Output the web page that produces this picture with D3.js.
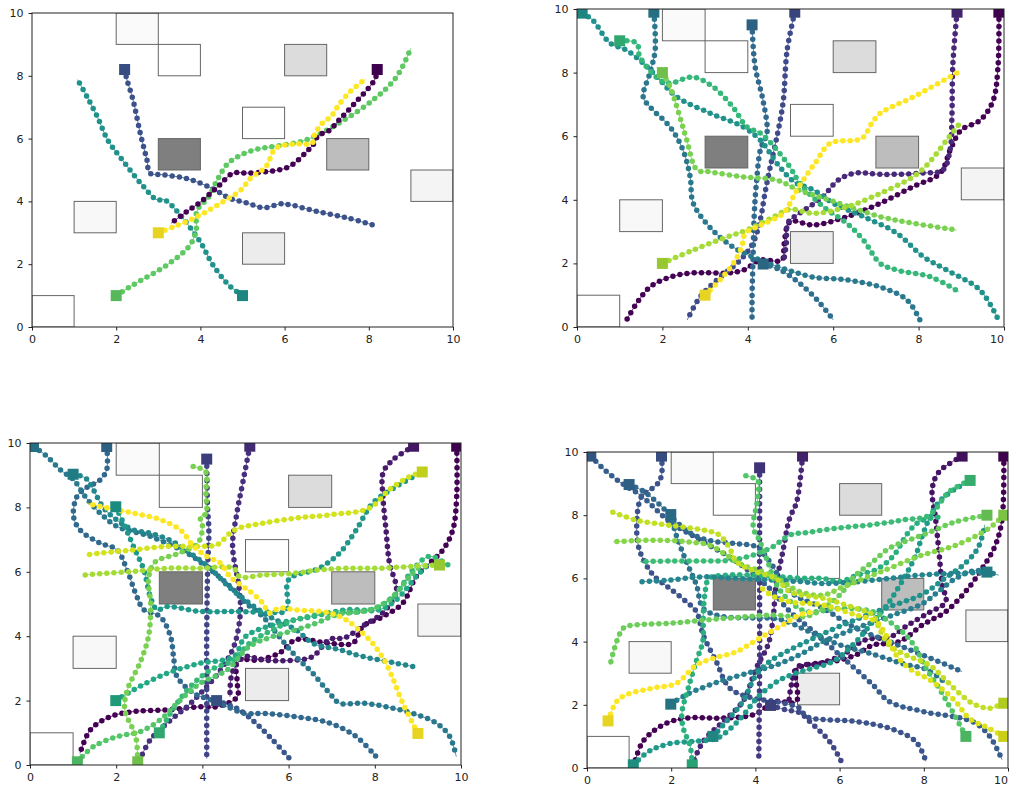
<!DOCTYPE html>
<html>
<head>
<meta charset="utf-8">
<script src="https://cdn.jsdelivr.net/npm/d3@7"></script>
<style>
body { margin: 0; background: #fff; }
.tick text { font-family: "DejaVu Sans", sans-serif; font-size: 11px; fill: #222; }
.tick line { stroke: #222; }
</style>
</head>
<body>
<div id="chart"></div>
<script>
/* globals d3 */

// Axis ticks, shared by all four panels
var ticks = [0, 2, 4, 6, 8, 10];

// Obstacles: [x0, y0, x1, y1] and their grey shade
var obstacles = [[2, 9, 3, 10], [3, 8, 4, 9], [6, 8, 7, 9], [5, 6, 6, 7], [3, 5, 4, 6],
    [7, 5, 8, 6], [9, 4, 10, 5], [1, 3, 2, 4], [5, 2, 6, 3], [0, 0, 1, 1]];
var obstacleShades = ['#fafafa', '#ffffff', '#dcdcdc', '#ffffff', '#7f7f7f',
    '#bdbdbd', '#f4f4f4', '#f8f8f8', '#ececec', '#ffffff'];

// Panel 1 (top left): 5 agents, first point = start square
var p1Colors = ['#3b528b', '#21918c', '#5ec962', '#440154', '#fde725'];
var p1Paths = [
    [[2.2, 8.2], [2.25, 7.9], [2.4, 7.23], [2.57, 6.18], [2.73, 5.32], [2.8, 4.9], [3.1, 4.85], [3.7, 4.72], [4.3, 4.4], [4.7, 4.1], [5.1, 3.95], [5.5, 3.8], [5.9, 3.92], [6.1, 3.9], [6.8, 3.67], [7.5, 3.47], [8.1, 3.25]],
    [[5, 1], [4.7, 1.3], [4.3, 1.97], [4.0, 2.7], [3.5, 3.6], [3.15, 4.05], [2.97, 4.05], [2.6, 4.55], [2.1, 5.4], [1.8, 5.95], [1.55, 6.7], [1.3, 7.35], [1.08, 7.88]],
    [[2, 1], [2.4, 1.34], [3.2, 1.97], [3.75, 2.6], [3.9, 3.1], [3.9, 3.6], [4.0, 3.88], [4.15, 4.05], [4.4, 4.68], [4.65, 5.2], [5.0, 5.5], [5.4, 5.68], [5.75, 5.75], [6.5, 5.95], [7.3, 6.5], [8.1, 7.23], [8.65, 7.95], [9.0, 8.88]],
    [[8.2, 8.2], [8.15, 7.9], [7.65, 7.1], [7.3, 6.6], [7.05, 6.25], [6.8, 6.1], [6.7, 5.85], [6.5, 5.55], [6.1, 5.1], [5.6, 4.95], [5.1, 4.9], [4.78, 4.9], [4.4, 4.45], [4.0, 3.98], [3.65, 3.65], [3.3, 3.3]],
    [[3, 3], [3.35, 3.18], [3.9, 3.5], [4.4, 3.88], [4.95, 4.35], [5.2, 4.75], [5.55, 5.1], [5.8, 5.7], [6.3, 5.83], [6.65, 5.85], [6.72, 6.15], [6.9, 6.5], [7.1, 6.7], [7.3, 7.1], [7.6, 7.55], [7.93, 7.9]]
];

// Panel 2 (top right): 11 agents
var p2Colors = ['#440154', '#482878', '#3e4a89', '#31688e', '#2e6e8e', '#2a788e',
    '#21918c', '#35b779', '#7ad151', '#a5db36', '#fde725'];
var p2Paths = [
    [[9.88, 9.9], [9.86, 8.2], [9.74, 7.1], [9.44, 6.5], [9.0, 6.2], [8.75, 5.6], [8.5, 4.83], [7.88, 4.42], [7.1, 3.89], [6.32, 3.47], [5.54, 3.21], [4.99, 3.31], [4.85, 2.6], [4.8, 2.1], [4.29, 2.1], [3.9, 1.79], [3.51, 1.7], [2.72, 1.7], [2.18, 1.57], [1.71, 1.26], [1.4, 0.75], [1.16, 0.22]],
    [[8.9, 9.9], [8.8, 8.2], [8.78, 6.6], [8.74, 5.6], [8.57, 4.94], [8.1, 4.84], [7.1, 4.8], [6.5, 4.84], [6.1, 4.6], [5.76, 4.1], [5.22, 3.58], [4.95, 3.3], [4.9, 2.6], [4.85, 2.15]],
    [[5.1, 9.9], [4.92, 8.7], [4.83, 7.1], [4.7, 6.1], [4.52, 5.0], [4.4, 4.2], [4.29, 3.36], [4.12, 2.64], [3.82, 2.1], [3.28, 1.48], [2.88, 0.94], [2.58, 0.22]],
    [[4.1, 9.5], [4.17, 8.2], [4.36, 7.1], [4.45, 6.1], [4.3, 5.6], [4.2, 4.5], [4.15, 3.5], [4.12, 2.0], [4.1, 1.0], [4.1, 0.22]],
    [[4.36, 1.98], [4.75, 1.8], [5.22, 1.37], [5.69, 0.75], [6.0, 0.22]],
    [[1.8, 9.9], [1.83, 8.7], [1.71, 8.0], [1.55, 7.23], [1.71, 6.92], [2.18, 6.29], [2.48, 5.57], [2.65, 4.72], [2.72, 3.9], [3.11, 3.14], [3.65, 2.52], [4.29, 2.1], [4.92, 1.8], [5.53, 1.57], [6.32, 1.48], [7.1, 1.26], [7.73, 0.85], [8.03, 0.22]],
    [[0.12, 9.87], [0.37, 9.65], [0.77, 8.93], [1.17, 8.7], [1.64, 8.18], [1.94, 7.77], [2.34, 7.23], [3.11, 6.73], [3.89, 6.29], [4.29, 5.88], [4.75, 5.03], [5.1, 4.55], [5.54, 4.31], [6.0, 3.89], [6.71, 3.47], [7.49, 2.95], [8.11, 2.21], [8.66, 1.79], [9.44, 1.16], [9.87, 0.22]],
    [[1.0, 9.0], [1.4, 8.93], [1.47, 8.5], [1.94, 7.77], [2.18, 7.67], [2.72, 7.86], [3.19, 7.55], [3.65, 6.92], [3.98, 6.29], [4.29, 6.1], [4.68, 5.57], [5.0, 5.0], [5.22, 4.52], [5.77, 3.78], [6.32, 3.26], [6.71, 2.73], [7.1, 2.0], [7.49, 1.79], [8.27, 1.58], [8.94, 1.11]],
    [[2.0, 8.0], [2.18, 7.55], [2.41, 6.6], [2.57, 5.88], [2.81, 4.94], [3.11, 4.88], [3.89, 4.72], [4.68, 4.62], [5.2, 4.3], [6.0, 3.95], [7.1, 3.47], [7.88, 3.26], [8.89, 3.05]],
    [[2.0, 2.0], [2.72, 2.42], [3.51, 2.83], [3.98, 3.05], [4.6, 3.46], [4.99, 3.7], [5.54, 3.57], [6.32, 3.78], [7.1, 4.2], [7.88, 4.73], [8.2, 5.1], [8.66, 5.88], [8.97, 6.41]],
    [[3.0, 1.0], [3.35, 1.48], [3.66, 2.0], [3.86, 2.52], [3.94, 2.94], [4.3, 3.2], [4.83, 3.58], [5.15, 4.31], [5.46, 4.94], [5.6, 5.2], [5.93, 5.78], [6.67, 5.93], [6.9, 6.4], [7.1, 6.72], [7.87, 7.23], [8.9, 7.99]]
];

// Panel 3 (bottom left): 16 agents
var p3Colors = ['#440154', '#481a6c', '#472f7d', '#414487', '#39568c', '#31688e', '#2a788e', '#23888e',
    '#1f988b', '#22a884', '#35b779', '#54c568', '#7ad151', '#a5db36', '#d2e21b', '#fde725'];
var p3Paths = [
    [[9.9, 9.9], [9.9, 8.34], [9.81, 7.3], [9.58, 6.68], [9.27, 6.27], [8.96, 5.85], [8.65, 5.03], [8.19, 4.61], [7.72, 4.3], [7.49, 3.78], [6.95, 3.78], [6.17, 3.89], [5.78, 3.47], [5.24, 3.26], [4.81, 3.26], [4.81, 2.54], [4.81, 2.12], [4.34, 1.81], [3.95, 1.81], [3.18, 1.71], [2.4, 1.66], [1.86, 1.5], [1.4, 1.09], [1.16, 0.36]],
    [[8.9, 9.9], [8.42, 9.48], [8.19, 9.07], [8.19, 8.34], [8.26, 7.3], [8.34, 6.27], [8.5, 5.4], [8.2, 4.75], [7.7, 4.3], [7.3, 3.95], [6.95, 3.9], [6.56, 3.37], [6.17, 3.26], [5.4, 3.26], [5.0, 3.37], [4.7, 2.9], [4.64, 2.12]],
    [[5.1, 9.9], [4.95, 8.86], [4.8, 7.82], [4.7, 6.8], [4.85, 5.5], [4.88, 4.72], [4.73, 3.68], [4.42, 2.95], [4.03, 2.33], [3.64, 1.81], [3.18, 1.3], [2.79, 0.78], [2.56, 0.2]],
    [[4.1, 9.5], [4.12, 8.0], [4.15, 7.3], [4.12, 6.0], [4.1, 4.0], [4.1, 2.0], [4.1, 0.2]],
    [[4.33, 2.0], [4.64, 1.85], [4.86, 1.71], [5.24, 1.3], [5.63, 0.78], [6.02, 0.2]],
    [[1.78, 9.89], [1.78, 9.17], [1.63, 8.86], [1.3, 8.6], [1.09, 8.34], [1.01, 7.72], [1.16, 7.3], [1.63, 6.89], [2.02, 6.68], [2.25, 6.06], [2.48, 5.23], [2.64, 4.82], [3.02, 4.61], [3.26, 3.99], [3.33, 3.37], [3.41, 2.75], [3.8, 2.23], [4.19, 2.02], [4.57, 1.81], [5.0, 1.6], [5.4, 1.6], [6.17, 1.5], [6.95, 1.3], [7.57, 0.88], [8.03, 0.26]],
    [[0.08, 9.89], [0.39, 9.59], [0.7, 9.17], [1.01, 8.86], [1.3, 8.3], [1.63, 7.82], [2.02, 7.41], [2.79, 7.1], [3.64, 6.58], [4.19, 6.06], [4.65, 5.54], [5.01, 5.03], [5.4, 4.61], [5.78, 3.99], [6.17, 3.37], [6.56, 2.85], [6.95, 2.23], [7.18, 1.92], [7.72, 1.92], [8.26, 1.81], [8.88, 1.6], [9.43, 1.3], [9.74, 0.88], [9.89, 0.26]],
    [[1.0, 9.03], [1.3, 8.9], [1.47, 8.55], [1.7, 8.0], [2.02, 7.6], [2.4, 7.3], [2.79, 7.2], [3.3, 6.95], [3.8, 6.5], [4.19, 6.1], [4.64, 5.5], [5.09, 5.03], [5.55, 4.61], [6.17, 4.2], [6.56, 3.78], [7.18, 3.58], [7.72, 3.37], [8.5, 3.16], [8.88, 3.06]],
    [[1.99, 8.02], [2.17, 7.51], [2.4, 6.79], [2.64, 6.06], [2.79, 5.23], [2.95, 4.82], [3.18, 4.92], [3.95, 4.77], [4.73, 4.77], [5.5, 4.75], [5.95, 4.8], [6.0, 5.75], [6.71, 6.11], [7.18, 6.58], [7.57, 7.3], [7.95, 8.13], [8.5, 8.65], [8.96, 9.0]],
    [[1.99, 2.0], [2.4, 2.33], [3.18, 2.85], [3.95, 3.16], [4.73, 3.37], [5.0, 3.99], [5.78, 4.4], [6.56, 4.61], [7.33, 4.82], [8.1, 4.82], [8.5, 5.13], [8.96, 5.85], [9.27, 6.27]],
    [[3.0, 1.0], [3.41, 1.92], [3.8, 2.54], [4.19, 2.95], [4.73, 3.26], [5.09, 3.78], [5.63, 4.2], [6.17, 4.51], [6.95, 4.72], [7.72, 4.77], [8.1, 4.92], [8.5, 5.33], [8.88, 6.06], [9.27, 6.48], [9.74, 6.17]],
    [[1.1, 0.1], [1.47, 0.57], [2.02, 0.88], [2.56, 1.04], [3.02, 1.4], [3.49, 2.02], [3.95, 2.54], [4.57, 2.95], [5.09, 3.68], [5.63, 3.99], [6.17, 4.2], [6.64, 4.4], [7.1, 4.66], [7.88, 4.82], [8.34, 5.13], [8.81, 5.85], [9.12, 6.27]],
    [[2.5, 0.1], [2.45, 0.9], [2.2, 1.7], [2.25, 2.3], [2.56, 3.2], [2.75, 4.0], [2.8, 5.0], [2.75, 5.8], [2.9, 6.3], [3.4, 6.55], [3.9, 6.9], [4.0, 7.45], [3.95, 7.7], [4.08, 7.8], [4.08, 8.5], [4.08, 9.1], [3.85, 9.25], [3.72, 9.28]],
    [[9.5, 6.21], [8.88, 6.17], [8.1, 6.11], [7.33, 6.11], [6.71, 6.06], [6.17, 5.96], [5.4, 5.9], [4.86, 5.85], [4.73, 6.11], [3.95, 6.11], [3.18, 6.11], [2.4, 6.01], [1.63, 5.94], [1.24, 5.9]],
    [[9.1, 9.1], [8.8, 8.95], [8.34, 8.55], [7.88, 7.98], [6.95, 7.77], [6.17, 7.67], [5.4, 7.51], [4.86, 7.36], [4.64, 7.2], [4.34, 6.84], [3.95, 6.79], [3.18, 6.79], [2.4, 6.68], [1.63, 6.58], [1.32, 6.53]],
    [[9.0, 0.98], [8.65, 1.92], [8.26, 3.16], [7.95, 3.78], [7.72, 4.09], [7.33, 4.51], [6.95, 4.72], [6.17, 4.82], [5.78, 4.87], [5.55, 4.72], [5.4, 5.03], [5.16, 5.33], [4.95, 5.54], [4.64, 5.85], [4.42, 6.27], [4.1, 6.48], [3.8, 6.79], [3.49, 7.3], [3.02, 7.62], [2.4, 7.82], [1.63, 8.03], [1.32, 8.13]]
];

// Panel 4 (bottom right): 21 agents
var p4Colors = ['#440154', '#471365', '#482475', '#453781', '#404688', '#3b528b', '#365d8d',
    '#31688e', '#2c728e', '#287d8e', '#21918c', '#1f9a8a', '#2ab07f', '#25858e',
    '#3bbb75', '#52c569', '#6ccd5a', '#86d549', '#c2df23', '#dde318', '#fde725'];
var p4Paths = [
    [[9.9, 9.87], [9.86, 7.89], [9.7, 7.05], [9.39, 6.32], [8.99, 5.58], [8.52, 4.95], [7.97, 4.53], [7.42, 4.0], [6.79, 3.89], [6.39, 3.58], [5.84, 3.37], [5.21, 3.26], [4.97, 3.1], [4.97, 2.1], [4.49, 2.1], [3.94, 1.68], [3.15, 1.58], [2.36, 1.58], [1.81, 1.37], [1.33, 0.84], [1.14, 0.21]],
    [[8.91, 9.87], [8.36, 9.37], [8.2, 8.84], [8.28, 7.89], [8.36, 6.84], [8.44, 5.79], [8.52, 5.26], [8.1, 4.9], [7.6, 4.5], [7.2, 4.15], [6.6, 4.05], [6.1, 3.6], [5.5, 3.3], [5.0, 3.2], [4.85, 2.6], [4.8, 2.15]],
    [[5.12, 9.87], [4.98, 8.42], [4.81, 7.89], [4.65, 6.84], [4.49, 5.79], [4.42, 4.74], [4.3, 3.9], [4.02, 3.16], [3.7, 2.1], [3.23, 1.47], [2.76, 0.84], [2.52, 0.16]],
    [[4.1, 9.5], [4.1, 7.37], [4.1, 5.26], [4.1, 3.16], [4.08, 0.32]],
    [[4.36, 1.98], [4.7, 1.85], [5.05, 1.75], [5.29, 1.47], [5.76, 0.84], [6.04, 0.21]],
    [[1.77, 9.87], [1.77, 9.26], [1.65, 8.95], [1.3, 8.6], [1.18, 7.58], [1.26, 6.84], [1.57, 6.11], [1.97, 5.68], [2.36, 5.26], [2.6, 4.95], [2.76, 4.21], [3.07, 3.37], [3.39, 2.53], [3.94, 2.21], [4.49, 2.1], [5.05, 1.89], [5.21, 1.63], [6.39, 1.47], [7.18, 1.26], [7.81, 0.84], [8.05, 0.21]],
    [[0.09, 9.87], [0.39, 9.47], [0.78, 9.05], [1.3, 8.6], [1.97, 7.79], [2.76, 7.16], [3.55, 6.53], [4.34, 5.68], [4.82, 4.95], [5.29, 4.42], [6.0, 3.58], [6.79, 2.63], [7.18, 2.1], [7.97, 1.79], [9.15, 1.47], [9.54, 1.05], [9.86, 0.26]],
    [[1.0, 8.97], [1.35, 8.75], [1.75, 8.3], [2.12, 7.79], [2.5, 7.4], [2.9, 7.2], [3.55, 7.1], [4.02, 7.0], [4.34, 6.53], [4.82, 5.58], [5.61, 5.05], [6.39, 4.42], [7.18, 4.0], [7.97, 3.58], [8.91, 3.05]],
    [[1.99, 8.02], [2.12, 7.37], [2.36, 6.53], [2.6, 5.79], [2.76, 5.05], [3.2, 4.8], [3.9, 4.75], [4.6, 4.7], [5.3, 4.3], [6.0, 3.9], [6.8, 3.6], [7.5, 3.3], [8.1, 3.1], [8.5, 2.7]],
    [[1.99, 2.02], [2.36, 2.32], [3.15, 2.74], [3.94, 3.05], [4.49, 3.26], [5.05, 3.58], [5.61, 4.0], [6.39, 4.42], [7.18, 4.8], [7.97, 5.2], [8.36, 5.6], [8.76, 6.0], [9.23, 6.25], [9.78, 6.1]],
    [[2.99, 1.0], [3.31, 1.47], [3.7, 2.1], [4.02, 2.95], [4.34, 3.37], [4.73, 3.68], [5.05, 3.89], [5.61, 4.25], [6.39, 4.7], [7.18, 5.1], [7.97, 5.5], [8.5, 6.0], [9.0, 6.5], [9.3, 7.0], [9.45, 7.7]],
    [[1.1, 0.1], [1.5, 0.55], [2.0, 0.78], [2.6, 0.85], [3.1, 0.95], [3.6, 1.5], [4.1, 2.3], [4.6, 2.8], [5.2, 3.1], [5.84, 3.37], [6.39, 4.0], [6.79, 4.63], [7.18, 5.26], [7.57, 6.11], [7.81, 6.74], [7.97, 7.37], [8.13, 7.89], [8.36, 8.42], [8.76, 8.84], [9.05, 9.05]],
    [[2.5, 0.1], [2.45, 0.7], [2.3, 1.2], [2.25, 1.7], [2.4, 2.5], [2.6, 3.4], [2.75, 4.0], [2.76, 4.8], [2.8, 5.5], [2.9, 6.0], [3.3, 6.1], [4.0, 6.1], [4.6, 6.05], [5.2, 6.0], [5.6, 6.0], [6.0, 5.9], [6.4, 6.1], [6.9, 6.3], [7.3, 6.75], [7.6, 7.4], [7.9, 7.8], [8.4, 7.95]],
    [[9.5, 6.2], [8.76, 6.16], [7.97, 6.11], [7.18, 6.0], [6.39, 5.89], [5.61, 5.84], [5.05, 5.9], [4.34, 5.95], [3.55, 6.0], [2.76, 6.05], [1.97, 5.95], [1.26, 5.89]],
    [[9.1, 9.1], [8.6, 8.74], [8.13, 8.0], [7.5, 7.85], [6.79, 7.7], [6.0, 7.6], [5.21, 7.45], [4.82, 7.37], [4.34, 6.95], [3.55, 6.6], [2.76, 6.55], [1.97, 6.55], [1.26, 6.53]],
    [[9.0, 1.0], [8.68, 1.79], [8.36, 2.53], [8.05, 3.16], [7.81, 3.79], [7.57, 4.21], [7.18, 4.63], [6.79, 4.95], [6.0, 5.05], [5.21, 4.95], [4.8, 5.3], [4.5, 5.8], [4.3, 6.5], [4.1, 7.2], [3.95, 7.6], [4.05, 8.5], [4.05, 9.1], [3.7, 9.26]],
    [[9.5, 8.0], [8.76, 7.79], [7.97, 7.37], [7.18, 6.95], [6.79, 6.53], [6.39, 6.11], [6.0, 5.47], [5.61, 5.05], [5.21, 4.8], [4.34, 4.84], [3.55, 4.76], [2.76, 4.68], [1.97, 4.58], [1.18, 4.53], [0.86, 4.42], [0.55, 3.26]],
    [[9.9, 8.0], [9.54, 7.58], [8.76, 7.05], [7.97, 6.74], [7.18, 6.32], [6.79, 6.11], [6.0, 5.68], [5.61, 5.47], [5.05, 5.58], [4.65, 5.89], [4.18, 6.21], [3.7, 6.42], [3.31, 6.74], [2.91, 7.05], [2.36, 7.16], [1.57, 7.21], [0.62, 7.16]],
    [[9.9, 2.05], [9.54, 1.89], [9.15, 2.05], [8.76, 2.47], [8.44, 2.89], [8.13, 3.26], [7.57, 3.58], [7.18, 3.89], [6.94, 4.42], [6.79, 4.84], [6.39, 5.05], [5.61, 5.37], [4.82, 5.58], [4.49, 6.0], [4.02, 6.21], [3.55, 6.53], [3.39, 6.95], [3.15, 7.37], [2.76, 7.53], [1.97, 7.68], [1.18, 7.84], [0.55, 8.13]],
    [[9.9, 1.0], [9.54, 1.26], [9.07, 1.58], [8.76, 2.1], [8.2, 2.74], [7.65, 3.16], [7.34, 3.58], [7.1, 4.21], [6.87, 4.63], [6.39, 4.84], [5.61, 5.16], [4.82, 5.26], [4.4, 5.45], [4.1, 5.75]],
    [[0.5, 1.49], [0.7, 2.1], [0.94, 2.32], [1.57, 2.53], [2.12, 2.68], [2.6, 3.26], [2.99, 3.47], [3.55, 3.68], [4.1, 4.11], [4.65, 4.53], [5.05, 4.84], [5.4, 4.95]]
];

// Pixel boxes of the four axes: [left, right, top, bottom]
var panels = [
    {box: [32, 453, 13, 327], colors: p1Colors, paths: p1Paths},
    {box: [577, 1004, 9, 327], colors: p2Colors, paths: p2Paths},
    {box: [30, 461, 443, 765], colors: p3Colors, paths: p3Paths},
    {box: [587, 1008, 452, 768], colors: p4Colors, paths: p4Paths}
];

var svg = d3.select('#chart').append('svg')
    .attr('width', 1012)
    .attr('height', 789);

panels.forEach(function(p, k) {
    var x = d3.scaleLinear().domain([0, 10]).range([p.box[0], p.box[1]]);
    var y = d3.scaleLinear().domain([0, 10]).range([p.box[3], p.box[2]]);

    var g = svg.append('g');
    g.append('clipPath').attr('id', 'clip' + k)
        .append('rect')
        .attr('x', p.box[0]).attr('y', p.box[2])
        .attr('width', p.box[1] - p.box[0]).attr('height', p.box[3] - p.box[2]);

    var plot = g.append('g').attr('clip-path', 'url(#clip' + k + ')');

    // Obstacles
    plot.selectAll('rect.obs')
        .data(obstacles)
        .enter().append('rect')
        .attr('class', 'obs')
        .attr('x', function(d) { return x(d[0]); })
        .attr('y', function(d) { return y(d[3]); })
        .attr('width', function(d) { return x(d[2]) - x(d[0]); })
        .attr('height', function(d) { return y(d[1]) - y(d[3]); })
        .attr('fill', function(d, i) { return obstacleShades[i]; })
        .attr('stroke', '#666')
        .attr('stroke-width', 1);

    var line = d3.line()
        .x(function(d) { return x(d[0]); })
        .y(function(d) { return y(d[1]); })
        .curve(d3.curveCatmullRom.alpha(0.5));

    // Trajectories: faint line plus round dots along it
    p.paths.forEach(function(path, i) {
        var c = p.colors[i];
        plot.append('path')
            .attr('d', line(path))
            .attr('fill', 'none')
            .attr('stroke', c)
            .attr('stroke-width', 0.8);
        plot.append('path')
            .attr('d', line(path))
            .attr('fill', 'none')
            .attr('stroke', c)
            .attr('stroke-width', 5.5)
            .attr('stroke-linecap', 'round')
            .attr('stroke-dasharray', '0,7.2');
    });

    // Start squares
    plot.selectAll('rect.start')
        .data(p.paths)
        .enter().append('rect')
        .attr('class', 'start')
        .attr('x', function(d) { return x(d[0][0]) - 5.5; })
        .attr('y', function(d) { return y(d[0][1]) - 5.5; })
        .attr('width', 11)
        .attr('height', 11)
        .attr('fill', function(d, i) { return d3.color(p.colors[i]).darker(0.25); });

    // Axes
    var xa = g.append('g')
        .attr('transform', 'translate(0,' + p.box[3] + ')')
        .call(d3.axisBottom(x).tickValues(ticks).tickSize(3.5).tickPadding(5).tickSizeOuter(0));
    xa.select('.domain').remove();
    // keep the last label inside the page on the right-hand panels
    if (p.box[1] > 1000) {
        xa.selectAll('.tick text').filter(function(d) { return d === 10; })
            .attr('text-anchor', 'end').attr('dx', '-0.05em');
    }

    g.append('g')
        .attr('transform', 'translate(' + p.box[0] + ',0)')
        .call(d3.axisLeft(y).tickValues(ticks).tickSize(3.5).tickPadding(5).tickSizeOuter(0))
        .call(function(a) { a.select('.domain').remove(); });

    // Frame
    g.append('rect')
        .attr('x', p.box[0]).attr('y', p.box[2])
        .attr('width', p.box[1] - p.box[0]).attr('height', p.box[3] - p.box[2])
        .attr('fill', 'none')
        .attr('stroke', '#222')
        .attr('stroke-width', 1);
});
</script>
</body>
</html>
